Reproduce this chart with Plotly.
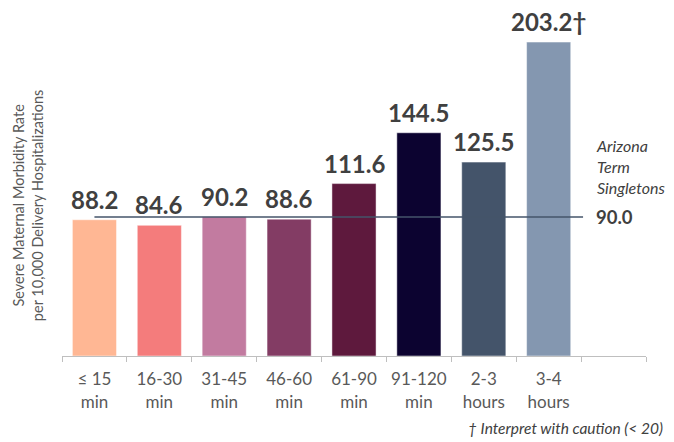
import plotly.graph_objects as go

categories = ["≤ 15<br>min", "16-30<br>min", "31-45<br>min", "46-60<br>min",
              "61-90<br>min", "91-120<br>min", "2-3<br>hours", "3-4<br>hours", " "]
values = [88.2, 84.6, 90.2, 88.6, 111.6, 144.5, 125.5, 203.2, None]
value_labels = ["88.2", "84.6", "90.2", "88.6", "111.6", "144.5", "125.5", "203.2†", ""]
bar_colors = ["#FFB794", "#F47C7C", "#C27BA0", "#833C64", "#5E193D",
              "#0C0330", "#44546A", "#8497B0", "#FFFFFF"]
reference_value = 90.0
reference_label = "Arizona<br>Term<br>Singletons"

FONT = "Lato"

fig = go.Figure()
fig.add_trace(go.Bar(
    x=categories, y=values,
    marker=dict(color=bar_colors, line=dict(width=0.8, color="rgba(255,255,255,0.6)")),
    hoverinfo="skip",
))

annotations = []
for c, v, t in zip(categories, values, value_labels):
    if v is None:
        continue
    annotations.append(dict(
        x=c, y=v, xref="x", yref="y", text=f"<b>{t}</b>", showarrow=False,
        yanchor="bottom", yshift=4,
        font=dict(family=FONT, size=24, color="#404040"),
    ))

# reference line
fig.add_shape(type="line", xref="x", yref="y", x0=0, x1=7.53,
              y0=reference_value, y1=reference_value,
              line=dict(color="#44546A", width=1.6), layer="above")

annotations.append(dict(
    x=7.70, y=reference_value, xref="x", yref="y", text=f"<b>{reference_value:.1f}</b>",
    showarrow=False, xanchor="left", yanchor="middle", yshift=0,
    font=dict(family=FONT, size=18.5, color="#404040"),
))
annotations.append(dict(
    x=7.70, y=reference_value, xref="x", yref="y", text=f"<i>{reference_label}</i>",
    showarrow=False, xanchor="left", yanchor="bottom", yshift=18, align="left",
    font=dict(family=FONT, size=16, color="#404040"),
))
annotations.append(dict(
    x=0, y=0.449, xref="paper", yref="paper",
    text="Severe Maternal Morbidity Rate<br>per 10,000 Delivery Hospitalizations",
    showarrow=False, textangle=-90, xanchor="center", yanchor="middle", xshift=-34,
    font=dict(family=FONT, size=14.5, color="#595959"),
))
annotations.append(dict(
    x=1, y=0, xref="paper", yref="paper", text="<i>† Interpret with caution (< 20)</i>",
    showarrow=False, xanchor="right", yanchor="middle", xshift=19, yshift=-72,
    font=dict(family=FONT, size=15.5, color="#404040"),
))

# page body adds an 8px offset; figure is sized to compensate
fig.update_layout(
    width=666, height=434,
    margin=dict(l=54, r=28, t=12, b=86),
    paper_bgcolor="white", plot_bgcolor="white",
    showlegend=False, bargap=0.32,
    annotations=annotations,
    xaxis=dict(
        type="category", categoryorder="array", categoryarray=categories,
        showline=True, linecolor="#BFBFBF", linewidth=1,
        ticks="outside", tickson="boundaries", ticklen=5, tickcolor="#BFBFBF",
        tickfont=dict(family=FONT, size=17, color="#595959"),
        ticklabelstandoff=8,
        showgrid=False, zeroline=False, range=[-0.5, 8.5], fixedrange=True,
    ),
    yaxis=dict(visible=False, range=[0, 217.5], fixedrange=True),
)

fig.write_html("out.html")
